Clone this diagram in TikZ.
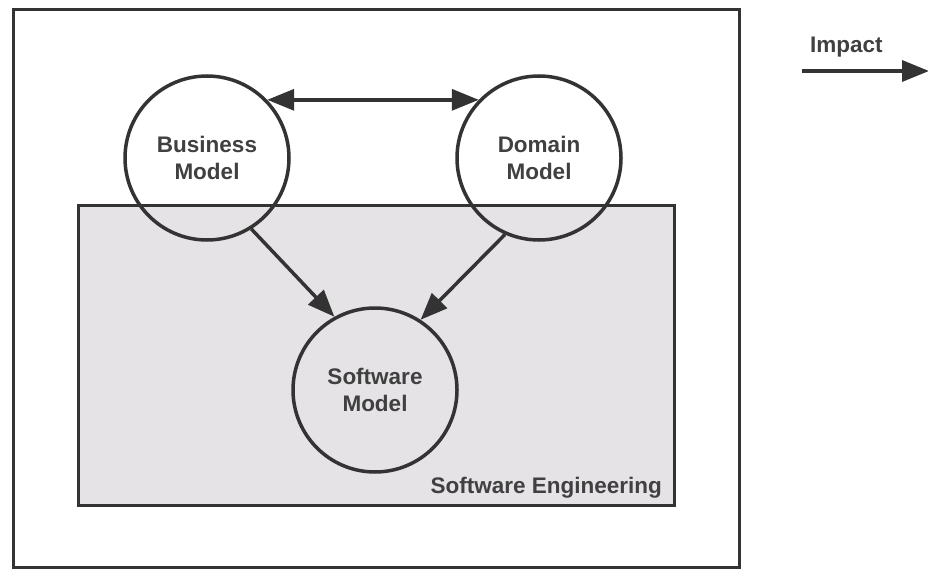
\documentclass[tikz,border=0pt]{standalone}
\usepackage{fontspec}
\setmainfont{Liberation Sans}
\usetikzlibrary{arrows.meta}
\definecolor{ln}{HTML}{333333}
\definecolor{tx}{HTML}{404040}
\definecolor{se}{HTML}{E6E3E6}
\tikzset{
  x=1pt,y=-1pt,
  model/.style={circle,draw=ln,line width=3.5pt,minimum size=164pt,inner sep=0pt,align=center,font=\bfseries\fontsize{22.5}{27}\selectfont,text=tx},
  tip/.tip={Triangle[length=27pt,width=21pt]},
  conn/.style={draw=ln,line width=3.5pt,-tip},
  lbl/.style={font=\bfseries\fontsize{22.5}{27}\selectfont,text=tx,inner sep=0pt}
}
\begin{document}
\begin{tikzpicture}
\useasboundingbox (0,0) rectangle (928,569);
\node[draw=ln,line width=3pt,minimum width=726pt,minimum height=558pt,inner sep=0pt,anchor=north west] (frame) at (12,8) {};
\node[draw=ln,line width=3pt,fill=se,minimum width=596pt,minimum height=300pt,inner sep=0pt,anchor=north west] (se) at (77,204) {};
\node[lbl,anchor=base east] (selbl) at (662,493) {Software Engineering};
\node[model] (bm) at (207,158) {Business\\Model};
\node[model] (dm) at (539,158) {Domain\\Model};
\node[model] (sm) at (375,390) {Software\\Model};
\draw[conn,tip-tip] (bm.44) -- (dm.136);
\draw[conn] (bm.-58) -- (sm.119);
\draw[conn] (dm.-114) -- (sm.57);
\node[lbl,anchor=base west] (imp) at (810,53) {Impact};
\coordinate (ia) at (802,71);
\coordinate (ib) at (929,71);
\draw[conn] (ia) -- (ib);
\end{tikzpicture}
\end{document}
